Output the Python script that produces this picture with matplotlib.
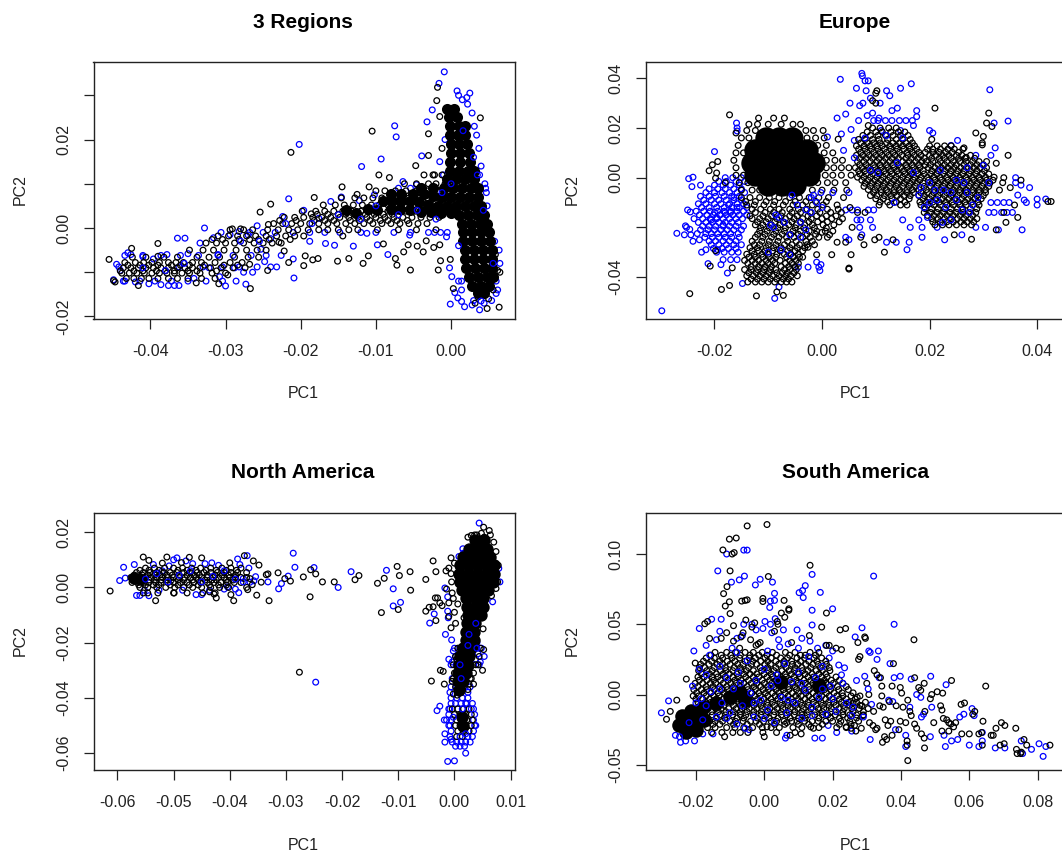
import matplotlib
matplotlib.use("Agg")
from matplotlib import pyplot as plt

plt.rcParams['font.family'] = ['Liberation Sans', 'DejaVu Sans']

# all values, in thousandths of PC1 / PC2
# *_core = spots where the rings overlap into solid black, drawn as one fat dot
# *_rows = crowded areas, listed as (PC2, [PC1, PC1, ...])


def expand(rows):
    return [(x, y) for y, xs in rows for x in xs]


regions_black = [(-45.5,-7.1),(-44.9,-11.9),(-44.7,-12.2),(-42.5,-4.6),(-41.6,-13),(-39,-3.5),(-39,-6.4),(-33.9,-12.4),(-30.9,-12.6),(-29.7,-10.6),(-29.1,-0.2),(-28,-0.2),(-26.7,-13.7),(-26.8,-8.2),(-25.6,-6.6),(-25.4,3.6),(-24.4,-9.6),(-24.3,0.8),(-24,5.4),(-22.9,-3.2),(-22.2,-5.2),(-21.6,-7.8),(-21.3,17.1),(-19.6,-8.5),(-19.4,-6.3),(-18.6,3.2),(-18.4,-7.2),(-18.2,6.9),(-17.7,-6.9),(-15.1,-7.5),(-14.5,9.3),(-14.4,-1.8),(-13.6,-6.9),(-12.5,7.6),(-11.7,-8),(-11,-6.3),(-10.9,9.3),(-10.5,21.9),(-9.6,12),(-9,-3.6),(-8.2,11.4),(-7.4,-6.9),(-7.2,-8.4),(-6.3,-5.4),(-5.7,-3.8),(-5.4,-9.5),(-4.7,14.1),(-4.5,-4.1),(-3.7,-5.4),(-3.3,-2.9),(-3,21.3),(-3,16.4),(-2.3,-4.4),(-2.4,12),(-1.9,28.8),(-1.8,31.8),(-1.7,-9.5),(-1.5,-3.8),(-1.5,25.2),(-1.4,-7.4),(-1.2,18),(-0.1,-7.1),(0.3,-13.7),(3.9,24.9),(4.8,-18.2),(6.4,-17.9),(5.9,-6),(6.2,-9.6),(6.5,-10),(5.6,-14),(5,-16),(3.2,-17),(3.6,-15.6)]

regions_black_rows = [
    (-6.6, [-42.4,-40.6,-38.2,-36.4,-33.8,-32.2,-30.8,-28.8,-27]),
    (-7.8, [-43.4,-42,-40.9,-39.8,-38.8,-37.6,-36.6,-35.6,-34.4,-33.2,-31.4,-29.4,-27.8]),
    (-8.4, [-43,-41.4,-40.2,-39,-37.2,-36,-34.8,-32.8,-30.2,-28.4]),
    (-9, [-43.6,-42.6,-41.6,-40.6,-39.6,-38.6,-37.6,-36.4,-35.4,-34.4,-33.4,-32,-30.6,-29,-27.4]),
    (-9.7, [-44,-42.2,-41,-39.2,-38,-36.8,-35,-33.8,-31.2]),
    (-10.2, [-43.8,-42.8,-41.8,-40.8,-39.8,-38.8,-37.8,-36.8,-35.8,-34.8,-33.4,-31.8,-30]),
    (-11.4, [-43.2,-42.2,-41.2,-40.2,-39,-37.6,-36.4,-35,-33.2,-31.4]),
    (-5, [-34.8,-33,-31.6,-30.2,-28.6,-27.2,-25.8,-24.6]),
    (-3.4, [-32.6,-31.2,-30,-28.8,-27.6,-26.2,-25,-23.8,-22.6]),
    (-2.6, [-31.8,-30.4,-28.2,-26.8,-25.6,-24.2,-21.4]),
    (-1.8, [-31,-29.6,-28.4,-27.2,-26,-24.6,-23.2,-22,-20.8,-19.6]),
    (-0.4, [-29.4,-27.6,-26.4,-24.4,-23,-21.6,-20.4,-19,-17.6,-16.4,-15,-13.6,-12.4,-9.8,-7,-4.6,-2]),
    (1, [-23.6,-22.4,-21.2,-20,-18.8,-17.6,-16.4,-15.2,-14,-12.8,-11.6,-10.4,-9.2,-8,-6.8,-5.6,-4.4,-3.2]),
    (1.7, [-22.8,-20.6,-18.2,-16.8,-15.6,-13.4,-12.2,-10.8,-9.4,-8.4,-7.2,-5.8]),
    (2.4, [-22.2,-20.8,-19.6,-18.4,-17.2,-16,-14.8,-13.6,-12.4,-11.2,-10,-8.8,-7.6,-6.4,-5.2,-4,-2.8,-1.6]),
    (3.1, [-17.8,-16.4,-15,-14,-12.8,-11.4,-10.2,-9,-7.8]),
    (3.8, [-19.8,-18,-16.8,-15.6,-14.4,-13.2,-12,-10.8,-9.6,-8.4,-7.2,-6,-4.8,-3.6,-2.4,-1.2]),
    (5.2, [-17,-15.4,-14.2,-13,-11.8,-10.6,-9.6,-8.4,-7.4,-6.2,-5,-3.8,-2.6]),
    (6.8, [-14.6,-12.8,-11.6,-10.4,-9.2,-8,-6.8,-5.6,-4.4,-3.2,-2,-0.8]),
    (8.4, [-10,-8.8,-7.4,-6,-4.6,-3.2,-1.6,-0.4]),
    (10, [-6.2,-4.6,-3,-2,-0.8]),
    (12, [-3.6,-2.2,-1.2]),
]
regions_black += expand(regions_black_rows)

regions_blue = [(-44.9,-11.7),(-44.5,-8.2),(-44,-9.6),(-43.6,-12),(-43,-5.6),(-42.6,-6),(-42,-12.2),(-41,-6.5),(-40.2,-12.6),(-39.6,-7),(-38.6,-12.8),(-37.8,-6),(-37.6,-13),(-36.8,-13),(-36.4,-2.3),(-36.2,-13),(-35.4,-2.3),(-35,-5.8),(-34.2,-11.4),(-33.4,-3.4),(-32.8,0),(-32.2,-9),(-31.6,-2.2),(-30.8,-11),(-30,-13.1),(-29.4,-1.5),(-28.8,-9),(-28.2,-0.8),(-27.6,-10),(-27.3,-12.7),(-27,-1.6),(-26.4,-10),(-25.8,0.5),(-25.3,-4.8),(-24.8,-7.6),(-24,-2.4),(-23.2,-8.8),(-22.4,2.6),(-21.6,6.6),(-21,-7),(-20.9,-11.3),(-20.2,18.9),(-19.6,4),(-18.8,-3),(-17.6,2.2),(-16.7,-3.5),(-16,6),(-15.5,-3.9),(-14.6,7),(-13,-4.1),(-12.2,6.2),(-11.9,13.9),(-11.2,-1.2),(-10.2,7.5),(-9.8,-3.8),(-9.3,15.6),(-8.4,-6),(-7.5,23.1),(-7.3,20.6),(-6.4,10.5),(-5.5,-1.6),(-4.6,9.8),(-3.9,16.3),(-3.2,24),(-2.5,26.7),(-2.2,-1),(-1.6,32.7),(-1.5,15),(-0.9,35.3),(-0.8,20),(-0.6,-2),(-0.2,-9),(-0.1,-17.2),(0.1,-11),(0.5,-14.6),(0.8,31),(1,30),(0.9,-15.8),(1.4,-16.6),(1.5,29),(2.1,29.5),(2.5,30.5),(2.8,26),(3.1,23),(3.4,21),(3.7,18),(4,14),(4.5,10),(4.7,8),(4.8,5),(4.6,2),(5,0),(5.8,-3),(6.4,-5),(6.5,-8),(6,-14.8),(5.4,-16.4),(3.8,-18.5),(2.8,-17.4),(1.8,-17.8),(4.4,-17),(3,-16.4)]

regions_blue_rows = [
    (-6.2, [-43.4,-41,-38.6,-36,-33.6,-31,-29,-26.6,-24.6,-22.6]),
    (-8.8, [-44.2,-36.2,-33,-30.4,-28.2,-25.8,-24]),
    (-12, [-43.4,-41.4,-39.4,-37.2,-35,-32.6,-30.4,-28.6]),
    (-1, [-30.6,-26.8,-25,-23.4,-21,-18.8,-16.8,-14.8,-12,-10,-7.6,-5.4,-3,-1.4]),
    (12, [-1,0,3.8]),
    (9, [-7,-5.4,4.6]),
    (-12, [1,1.4,6]),
    (-14, [1.4,6.2]),
]
regions_blue += expand(regions_blue_rows)

regions_blue_top = [(-41,-9),(-38,-9.6),(-35.5,-8),(-31,-6),(-28,-3),(-25.5,-3),(-22,1),(-18.5,1),(-15,3),(-12,2),(-10,5),(-7,3),(-4.5,4),(-2,2),(-1.2,8),(0,10),(1.6,22),(3,16),(2.2,28),(3.5,12),(4.3,4),(-0.5,-1),(1,-4),(5.6,-8),(4,-16.5)]

regions_core = [(-0.5,27),(0.4,27),(-0.3,25),(0.8,25),(-0.2,23),(1,23),(1.9,23),(-0.1,21),(0.9,21),(1.9,21),(0,19),(1,19),(2.1,19),(0,17),(1.2,17),(2.4,17),(-0.1,15),(1.2,15),(2.5,15),(-0.2,13),(1,13),(2.2,13),(3,13),(-0.5,11),(0.7,11),(1.9,11),(3,11),(-4,9),(-2.4,9),(-1,9),(0.2,9),(1.4,9),(2.6,9),(3.6,9),(-8,7.6),(-6.6,7.6),(-5,7.6),(-3.6,7.6),(-2.4,7.2),(-1.2,7),(0,7),(1.2,7),(2.4,7),(3.6,7),(-9,6),(-7.8,6),(-6.6,6),(-5.4,6),(-4.2,5.8),(-3,5.2),(-1.8,5),(-0.6,5),(0.6,5),(1.8,5),(3,5),(4,5),(-8,4.4),(-6.8,4.2),(-5.4,4),(-4,3.6),(-2.6,3.6),(-1.4,3.4),(0,3.4),(1,3),(2.2,3),(3.4,3),(4.4,3),(-14,4),(-12.6,3.4),(-11,4.4),(-9.8,4),(1.4,1),(2.6,1),(3.8,1),(4.8,1),(1.6,-1),(2.8,-1),(4,-1),(5,-1),(1.6,-3),(2.8,-3),(4,-3),(5.2,-3),(1.8,-5),(3,-5),(4.2,-5),(5.4,-5),(1.8,-7),(3,-7),(4.2,-7),(5.4,-7),(2,-9),(3.2,-9),(4.4,-9),(5.5,-9),(2.4,-11),(3.6,-11),(4.8,-11),(5.6,-11),(2.8,-13),(4,-13),(5,-13),(3.6,-14.6),(4.4,-14.6)]

europe_black = [(-24.6,-46.7),(-18.7,-45),(-17.2,-43.4),(-16.7,-36.3),(-20.8,-35.6),(-19.8,-29.4),(-19.4,6.5),(-20.4,5.2),(-21,2.8),(-19.6,1.9),(-19.8,-0.2),(-18,-2),(-17.2,25.3),(-16,18),(-12.2,-47.6),(-8.4,-46),(-7.2,-47.4),(5,-36.8),(5,-36.4),(0.2,19),(3,15.5),(5.4,-31),(7.2,-24),(7.8,-27),(9.8,-25),(10.6,-24),(11.6,-30),(13.2,-25),(21,28),(20.4,15.4),(24.6,-23),(26.4,12),(26.8,8.2),(27.8,-24.8),(28.6,18),(29.8,14),(29.8,13.2),(30,16.6),(30.6,22),(31,26),(31.6,20.6),(32.4,5.8),(32.4,-21),(33,-5),(33.6,-2),(33.8,0),(33.8,-14),(34.2,-18),(34.6,9),(35,-4),(35.8,-11),(36.4,-16),(37,-1),(42,-9.6),(42.6,-9.6),(9.4,31),(10,30),(10,34),(10.2,35),(8.6,21),(5.6,-20),(5.2,-12),(4.4,-26),(2.8,-26),(1.8,-31),(1.4,-23),(0,-22),(-1,-31),(-2.6,-28),(-3.6,-32),(6.6,-14),(8,-14)]

europe_black_rows = [
    (24, [-11.8,-9,-7]),
    (21.5, [-13.6,-12,-10,-7.6,-5.4,-4]),
    (19, [-14,-12.4,-3,-1.6]),
    (16, [-15,-13.6,-2.8,-1.2,0.4]),
    (13, [-15.6,-0.8,0.8]),
    (10, [-16,-14.6,0.4,2]),
    (7, [-16.4,0.8,2.4,3.8]),
    (4, [-16,0.8,2.2,3.6,5]),
    (1, [-16,-14.6,0.6,2,3.6,5.4]),
    (-2, [-15.4,-13.8,-0.8,1,2.4,4.4]),
    (-5, [-15,-13,-11.6,-1.8,0,2.2,4.6]),
    (-8, [-15,-13.4,-11.6,-9.8,-8,-6,-4.2,-2.4,-0.6,1.2,4]),
    (-9.6, [-14.2,-12.4,-10.4,-8.8,-6.8,-5,-3,-1.2,0.8]),
    (-11, [-14,-12.6,-10.8,-9,-7.2,-5.4,-3.6,-1.8,0.2,2.8]),
    (-12.7, [-13,-11.4,-9.6,-8,-6,-4.4,-2.8,-0.8,1,3]),
    (-14, [-12.4,-10.6,-9,-7.4,-5.6,-4,-2.2,-0.4,1.6,3.6]),
    (-15.4, [-13.4,-11,-9.4,-7.6,-6,-4.6,-2.6,-1,0.8,2.6]),
    (-16.5, [-13,-11.6,-10,-8.4,-6.8,-5.2,-3.6,-2,0,1.8,3.8]),
    (-17.8, [-12,-10.4,-8.8,-7.2,-5.6,-4,-2.4,-0.8,1,3.2]),
    (-19, [-12.4,-11,-9.4,-7.8,-6.2,-4.8,-3.2,-1.8,0.2,2.2]),
    (-20.2, [-11.4,-9.8,-8.2,-6.8,-5,-3.4,-1.4,0.8]),
    (-21.5, [-11.6,-10.2,-8.6,-7,-5.4,-4,-2.4,-1,0.6,2]),
    (-22.8, [-12,-10.6,-9,-7.4,-5.8,-4.4,-2.8,-1.2]),
    (-24, [-12.4,-11,-9.4,-8,-6.6,-5.2,-3.6,-2.2,-0.6,1]),
    (-25.6, [-13,-11.2,-9.8,-8.2,-6.4,-4.8,-3,-1.8]),
    (-27, [-12.6,-11.6,-10,-8.6,-7,-5.6,-4.2,-2.8,-1.4]),
    (-28.2, [-13.4,-12,-10.4,-9,-7.6,-6,-4.6,-3.2]),
    (-29.5, [-13,-11.8,-10.6,-9.2,-7.8,-6.4,-5,-3.6]),
    (-30.8, [-14,-12.6,-11.2,-10,-8.4,-7,-5.8,-4.4]),
    (-32, [-13.6,-12.4,-11,-9.8,-8.6,-6.6,-5.4,-4.2]),
    (-33.3, [-14.4,-13,-11.8,-10.4,-9.2,-7.8,-6,-4.8]),
    (-34.5, [-13.8,-12.4,-11.2,-10,-8.8,-6.8,-5.6,-4.4]),
    (-35.8, [-13.2,-11.8,-10.6,-9.4,-7.6,-6.2,-5]),
    (-37, [-14.4,-13.2,-12,-10.8,-9.6,-8.6,-7,-6,-4.8]),
    (-38.3, [-13.6,-12.2,-11,-9.8,-8.4,-7.4,-6.4,-5.2]),
    (-39.5, [-14,-12.8,-11.6,-10.4,-9.2,-8,-6.8,-5.8,-4.6]),
    (-40.8, [-13.2,-12,-10.8,-9.6,-8.4,-7.2,-6.2]),
    (-42, [-13.8,-12.4,-11.2,-10,-8.8,-7.6,-6.6,-5.6]),
    (20, [9.4,10.8,12.4,13.8]),
    (18.4, [8.4,10,11.2,12.8,14.2,15.4]),
    (17, [7.6,9,10.4,11.8,13.2,14.6,16]),
    (15.4, [6.8,8,9.4,10.6,12.2,13.8,15,16.4]),
    (14, [7.2,8.4,9.6,10.8,12,13.2,14.4,15.6,16.8]),
    (12.8, [6.4,7.8,9,10.2,11.2,12.6,13.8,15,16.2,17.2,20,21.4,22.8,24]),
    (11.5, [6.8,8,9.2,10.4,11.6,12.8,14,15.2,16.4,17.6,19.6,20.6,22,23.4,24.6,26.2]),
    (10.2, [7.2,8.4,9.6,10.8,12,13.2,14.4,15.8,16.8,18,19.2,20.6,21.8,23,24.2,25.4]),
    (9, [6.4,7.6,8.8,10,11.2,12.4,13.6,14.8,16,17.2,18.4,20,21.2,22.4,23.6,25,26,27.6]),
    (7.8, [7,8.2,9.4,10.6,11.8,13,14.2,15.6,16.6,17.8,19,20.4,21.8,22.8,24,25.4,26.6,28.4]),
    (6.5, [6.6,7.8,9,10.2,11.4,12.6,13.8,15,16.2,17.4,18.6,19.4,20.6,22,23.2,24.4,25.6,26.8,28,29.2,30.6]),
    (5.2, [7,8.2,9.6,10.8,12,13.2,14.2,15.6,16.8,18,19.2,20.2,21.6,22.8,24,25,26.4,27.6,28.8,30]),
    (4, [6.2,7.4,8.6,9.8,11,12.2,13.4,14.6,15.8,17,18.2,19.8,21,22.2,23.4,24.6,25.8,27,28.2,29.4,30.6]),
    (2.8, [6.8,8,9.2,10.4,11.6,12.8,14,15.2,16.4,17.6,18.8,20.4,21.6,22.8,24,25.2,26.4,27.6,28.8,30.2]),
    (1.5, [7,8.2,9.4,10.6,11.8,13,14.2,15.4,16.6,17.8,19,20.2,21.4,22.6,23.8,25,26.2,27.4,28.6,29.8,31]),
    (0.2, [6.6,7.8,9,10.2,11.4,12.6,13.8,15,16,17.2,18.4,19.6,20.8,22,23.2,24.4,25.6,26.8,28,29.2,30.4,32]),
    (-1, [7.4,8.6,9.8,11,12.2,13.4,14.6,15.8,17,18.2,19.8,21,22.2,23.4,24.6,25.8,27,28.2,29.4,30.6,31.8]),
    (-2.2, [8,9.2,10.4,11.6,12.8,14,15.2,16.4,17.6,18.8,20.4,21.6,22.8,24,25.2,26.4,27.6,28.8,30,31.2]),
    (-3.5, [7.8,9,10.2,11.4,12.6,13.8,15,16.2,17.4,19,20.2,21.4,22.6,23.8,25,26.2,27.4,28.6,29.8,31]),
    (-4.8, [8.6,9.8,11,12,13.4,14.4,15.8,16.8,18,19.4,20.8,22,23.2,24.4,25.6,26.8,28,29.2,30.4]),
    (-6, [9.6,11,12.2,13.4,14.6,15.8,17,18.4,19.6,20.8,22,23.2,24.4,25.6,26.8,28,29.2,30.4]),
    (-7.2, [9,10.2,11.6,12.8,14,15.2,16.4,18,19,20.4,21.6,22.8,24,25.2,26.4,27.6,28.8,30]),
    (-8.5, [10,11.4,13,14.6,16.2,18.8,20,21.2,22.4,23.6,24.8,26,27.2,28.4,29.6]),
    (-9.8, [10.8,12.2,13.8,15.4,18.2,19.4,20.6,21.8,23,24.2,25.4,26.6,27.8,29]),
    (-11, [10.6,12.6,14.6,15.8,18.4,19.6,20.8,22,23.2,24.4,25.6,26.8,28,29.2]),
    (-12.5, [19.2,20.4,21.6,22.8,24,25.2,26.2,27.6,28.8]),
    (-14, [19,20.2,21.4,22.6,23.8,25,26.2,27.4,28.6]),
    (-15.2, [19.6,20.8,22,23.2,24.4,25.6,26.8,28]),
    (-16.5, [20.4,21.6,22.8,24,25.2,26.4,27.6,28.8]),
    (-17.8, [20.6,22,23.2,24.4,25.8,27,28.2]),
    (-19, [21,22.4,23.6,25,26.4,27.8]),
]
europe_black += expand(europe_black_rows)

europe_blue = [(-29.8,-53.6),(-27,-22.4),(-25.6,-23),(-25,-13),(-25.2,-20),(-25.4,-19.4),(-24.5,-13.8),(-24.6,-20.8),(-24.4,-23),(-24,-25.6),(-24,0.2),(-24.8,-0.4),(-24.2,-3.6),(-22.8,-25),(-22.4,-30),(-22.6,-3),(-21.6,-29),(-21.2,-34.6),(-20,10.5),(-19.4,-29),(-18.8,-35),(-17.6,-38.4),(-15.9,22),(-15.8,20),(-15.8,18.8),(-14.8,-42.6),(-8.8,-48.6),(-8,-44),(-4.4,-36),(-2.6,-36),(-1,-34),(-0.6,-36),(-0.4,-37.4),(-0.2,-35),(1,16.4),(2.8,24),(3.4,39.6),(3.6,17.6),(4,11),(4.4,25.6),(4.4,-24),(5,-25),(5.2,30),(5.4,19.4),(6,15),(6.4,36),(6.8,23),(7,29),(7.4,-23),(7.6,30),(7.4,42),(7.5,41),(8,39),(8.6,39),(8.2,35),(8.4,25),(9,32),(9.4,26),(10.6,24),(10.8,30),(11,19),(12,35),(12.6,33),(12,-26),(13,27),(14,28),(13.8,-26),(14.6,36),(14.6,19),(15.8,-29),(16.2,-26),(16.6,37.8),(17,21),(17.6,24.6),(17.6,27),(18.6,-24),(20,19),(20.6,18),(22.8,-25),(24,13),(25.2,15),(26,-23),(28.6,9),(31.4,9),(31.2,35.4),(32,22),(32.2,12),(32.8,-21),(34.6,22.8),(36,0),(36,-2),(36.4,-7),(37,-3),(37.2,-21),(37.6,-9),(38,-10),(38.6,-4),(40,-8.6),(40,-11),(41.6,-8.6)]

europe_blue_rows = [
    (0, [-18,-16.6,-15]),
    (-1.5, [-19.2,-17.8,-16,-14.4]),
    (-3, [-20,-18.4,-17,-15.4]),
    (-4.5, [-21,-19.4,-18,-16.4,-15]),
    (-6, [-21.6,-20,-18.6,-17.2,-15.8,-14.4]),
    (-7.5, [-22.6,-21,-19.8,-18.2,-16.8,-15.4]),
    (-9, [-22,-20.6,-19.2,-17.8,-16.4,-15]),
    (-10.5, [-23,-21.6,-20,-18.8,-17.2,-15.8,-14.6]),
    (-12, [-22.4,-21,-19.6,-18.2,-16.8,-15.4,-14]),
    (-13.5, [-23.4,-22,-20.8,-19.4,-18.2,-17,-15.8,-14.6]),
    (-15, [-22.8,-21.4,-20.2,-19,-17.8,-16.6,-15.4,-14]),
    (-16.5, [-23.8,-22.2,-20.8,-19.6,-18.4,-17.2,-16,-14.8]),
    (-18, [-23,-21.6,-20.4,-19.2,-18,-16.8,-15.6]),
    (-19.5, [-22.2,-21,-19.8,-18.4,-17.2,-16,-14.6]),
    (-21, [-22.6,-21.2,-20,-18.8,-17.6,-16.4,-15]),
    (-22.5, [-23.2,-21.6,-20.6,-19.4,-18.2,-17,-15.6]),
    (-24, [-21.8,-20.4,-19.2,-18,-16.8,-15.4]),
    (-25.5, [-21,-19.8,-18.4,-17.2,-16]),
    (-27, [-20.6,-19.2,-17.8,-16.4,-15]),
    (-28.5, [-20.2,-18.6,-17.4,-16]),
    (-30, [-19.6,-18.2,-16.8,-15.6]),
    (-33, [-18.4,-17,-15.8]),
    (-13, [4.4,5.6,6.6,8.6,9.6]),
    (-17, [6.5,7.2,9,15,18]),
    (-20, [7,9.4,16.4,18.6,21.4,28.6,30.4]),
    (-14, [31,32,33.4,34.4,35.4]),
    (-10, [31.4,32.6,33.8,34.8]),
    (23, [9.6,10.4,11.8,13,14.4,15.6,16.8]),
]
europe_blue += expand(europe_blue_rows)

europe_blue_top = [(-20.6,-17),(-20,-14),(-19.6,-16),(-19,-15),(-18.4,-19),(-18,-14),(-17.4,-11),(-17,-14),(-16.4,-8),(-15.8,-12),(-9.6,-19),(-8.6,-15),(-7.6,-29),(-1.6,-7),(-1,-10),(-0.2,-6),(-9,-20),(10.4,2),(13.4,-10),(18,-7),(19,-12),(19.6,-16),(21,-5),(22.4,-18),(24,-6),(26.4,-2),(26,-13),(27.4,-14),(18.4,-4),(14,6),(-4.6,-11),(-3,-13),(-2,-8),(-5.6,-7),(-7,-18),(-4,-24),(-10,-30),(-6,-31),(0,-12),(2,-6),(5,-6),(6,8),(8,16),(9,3),(12,17),(15,16),(17,2),(20,-10),(22,3),(24,-17),(27,4),(29,-8),(31,-2),(30,5),(25,-1),(21.4,-9),(23,-12),(25,-9),(27,-6),(28,-11),(20,-2),(22.6,-5),(-8,-16),(-6,-23),(-4,-18),(-2,-14),(-3,-21)]

# big dots only for the solid Europe blob
europe_core = [(-10.5,16),(-8,16),(-5.5,16),(-12.5,11),(-10,11),(-7.5,11),(-5,11),(-2.8,11),(-13,6),(-10.5,6),(-8,6),(-5.5,6),(-3,6),(-1.5,6),(-12.5,1),(-10,1),(-7.5,1),(-5,1),(-2.5,1),(-10,-3),(-7.5,-3),(-5,-3)]

north_black = [(-61.3,-1.3),(-55.4,11),(-54.4,9.8),(-53.2,-4.8),(-52,8.8),(-51.2,11),(-49.9,-2),(-48.6,9),(-47.2,10.9),(-45,10.7),(-43.6,-1.6),(-42.8,-2.4),(-42.4,-3.8),(-40,8.9),(-39.8,-2.6),(-39.3,-4.8),(-37.4,11.5),(-37,0),(-36.8,-0.8),(-36.4,3.2),(-36,1),(-35.8,9.6),(-35.2,-2.8),(-34.8,8.1),(-34.4,1.9),(-33.5,4.6),(-33.2,4.9),(-33,-4.8),(-31.4,5.3),(-30.2,3.2),(-29.2,2.3),(-27.6,-30.7),(-26.9,3.8),(-25.7,-3.4),(-25.6,6.4),(-24.7,4.9),(-23.5,2),(-21.4,2),(-17.7,2.8),(-17,4.3),(-13.7,1.5),(-13,-9.1),(-12.5,3.3),(-10.2,7.6),(-10,-8),(-9.8,4.3),(-7.9,5.7),(-7.8,-1),(-5.1,2.9),(-5.1,-8.6),(-4.5,-7.2),(-4.1,-33.9),(-3.8,9.6),(-3.8,-7),(-3.4,-3.8),(-3.3,5.7),(-3.3,-12),(-3,-3.8),(-2.6,-5.6),(-2.5,-30),(-2.2,-6.6),(-2,-30.4),(-1.8,-35),(-1.5,6),(-1.4,-0.6),(-1,7),(-1,-5.6),(-1,-10.5),(-0.6,10.7),(-0.6,-14.6),(-0.4,-2),(-0.2,-38.6),(0,-9),(0.2,-13),(1.4,-37),(1.7,-11),(2.4,-37),(2.6,-35),(3.4,-35),(5,-30),(5.2,-22.5),(5.1,-15),(5.3,18.2),(2.4,18.2),(3,18.8),(3.6,19),(4,19),(5.2,21.8),(6.2,20.6),(4.8,19.6),(6.4,19),(7,16.4),(7.4,13),(7.8,8),(7.7,2),(7.4,-0.4),(6.6,-3),(-0.5,2),(-0.6,5),(0,8.8),(-0.2,-4),(0.6,-6),(0.4,-26),(0.6,-31),(-0.4,-34),(0.2,-36),(0.5,-39)]

north_black_rows = [
    (7, [-55,-53.4,-51.6,-50,-48.4,-46.8,-45.2,-43.4,-41.4,-39.8,-38]),
    (6.2, [-56,-54.4,-52.6,-49.2,-47.6,-46,-44.2,-42.4,-40.6,-38.8]),
    (5.4, [-56.6,-55.4,-54.2,-53,-51.8,-50.6,-49.4,-48.2,-47,-45.8,-44.6,-43.4,-42.2,-41,-39.8,-38.6,-37]),
    (4.5, [-57,-55.6,-54.6,-53.4,-52.4,-51.2,-50.2,-49,-47.6,-46.4,-45.4,-44,-42.6,-41.4,-40.2,-39]),
    (3.6, [-57.6,-56.8,-56,-55,-54,-53,-52,-51,-50,-49,-48,-47,-46,-45,-44,-43,-42,-41,-40,-39,-38,-37]),
    (2.7, [-57,-55.4,-54.4,-53.4,-52.2,-51.4,-50.4,-49.2,-48.2,-46.6,-45.6,-44.4,-43.2,-42.4,-40.6,-39.4]),
    (1.8, [-57.4,-56.4,-55.4,-54.4,-53.2,-52.2,-51,-50,-48.8,-47.6,-46.4,-45.2,-44,-42.8,-41.6,-40.4,-39.2,-38]),
    (0.9, [-56.2,-55,-53.6,-52.6,-50.6,-49.2,-47.2,-45.6,-43.6,-42,-40.6]),
    (0, [-56,-54.6,-53,-51.4,-49.8,-48.2,-46.6,-45,-43.4,-41.8,-40.2]),
    (-2, [-55.4,-54.6,-52.8,-50,-47.6,-44.8,-42.6]),
    (-44, [-0.4,0.6,1.6,2.6]),
    (-46, [0,1,2,3]),
    (-48, [0.4,1.2,2.2,3.2]),
    (-50, [0.2,1,2,3]),
    (-52, [0.6,1.6,2.6]),
    (-54, [0.4,1.4]),
    (-22, [0.6,1,4.6]),
    (-25, [0.2,4.4]),
    (-28, [-0.2,3.8,4.2]),
    (-31, [0,3.4]),
    (-33, [-0.2,2.8,3]),
]
north_black += expand(north_black_rows)

north_blue = [(-59.6,2.5),(-58.9,7.3),(-58.6,3.4),(-57,8.3),(-56.6,-2.9),(-56,-2.9),(-55.2,-1),(-54.4,-3),(-53.6,8.3),(-52.6,-1),(-52,6),(-50.8,7.8),(-50,10),(-49.4,10.7),(-48.4,-1),(-47.8,9.6),(-46.6,8.6),(-46,-2.6),(-45,-2.6),(-44.4,8.6),(-43.6,-1),(-43.2,8.9),(-42,8),(-41,-0.6),(-40.4,0.2),(-39,-0.6),(-38.6,10.3),(-38.4,-1.9),(-38.2,8.3),(-37.6,3.2),(-36.9,11.5),(-36.6,7),(-36.4,1.9),(-35.7,2.4),(-35.4,3.9),(-33.2,2),(-31.3,-0.5),(-30.8,1.4),(-29.6,4.1),(-28.7,12.4),(-28.4,7.3),(-25,7.2),(-24.7,-34.3),(-20.7,0),(-18.4,5.7),(-12.1,6.2),(-10.9,-0.5),(-10.9,-6.7),(-9.6,-5.4),(-4.4,-12.9),(-3.6,-9.6),(-2.6,-43),(-3.1,-44.6),(-1.7,-0.2),(-1.6,-17),(-1.8,-48),(-1.7,-53),(-1.7,-56),(-1.2,-3.4),(-1.1,-11),(-1.2,-8.6),(-1.2,-63),(0,-62.8),(-1,-26),(-1,-44),(-0.8,-50),(-0.6,-55),(-0.8,-38),(-0.6,-28),(-0.2,-23),(0.2,-25),(2,-60),(3.8,-26),(4.2,-24),(4.4,-28),(4.4,23.3),(4,-20),(5.3,-25),(1.5,14),(0.8,11.2),(1.6,12.4),(6.8,-5.2),(7,9),(8.1,2),(7.9,6.9),(-0.5,-19)]

north_blue_rows = [
    (-40, [-0.6,0.4,1.4,2.4]),
    (-42, [-0.6,0.2,1.2,2.2,3.2]),
    (-44, [-0.8,3.4]),
    (-46, [-1,3.6]),
    (-48, [-1.4,-0.6,3.4]),
    (-50, [-1,3.6,3.8]),
    (-52, [-0.6,3.4]),
    (-54, [-0.8,2.4,3.2]),
    (-56, [-0.4,0.4,1.2,2,2.8]),
    (-57.5, [0.2,1,1.8]),
    (-22, [0,2.6,4.8]),
    (-27, [-0.4,4.6]),
    (-33, [-0.4,1]),
    (-36, [-0.6,1.8,2.8]),
    (-38, [0.8,2.4]),
]
north_blue += expand(north_blue_rows)

north_blue_top = [(-55,3),(-53,5),(-51,2),(-49,4.4),(-47,6),(-45,2),(-43,4),(-41,6),(-39,3),(-37.6,2),(2.6,-17),(3.8,-13),(2.4,-21),(4,-22),(1.2,-33),(1,-28),(2,-42),(1.4,-44),(3,-44),(-0.2,-47),(1,-54),(2,-53)]

north_core = [(3.6,17),(5.2,17),(2.6,14),(4.2,14),(5.8,14),(1.6,11),(3.2,11),(4.8,11),(6.4,11),(1,8),(2.6,8),(4.2,8),(5.8,8),(7,8),(0.8,5),(2.4,5),(4,5),(5.6,5),(7,5),(1,2),(2.6,2),(4.2,2),(5.8,2),(6.8,2),(1.4,-1),(3,-1),(4.6,-1),(6,-1),(2,-4),(3.6,-4),(5,-4),(2.2,-7),(3.8,-7),(5,-7),(2.4,-10),(3.8,-10),(4.8,-10),(2.2,-13),(3.6,-13),(2,-16),(3.4,-16),(2,-19),(3.4,-19),(1.6,-22),(3,-22),(1,-25),(2.6,-25),(0.8,-28),(2.4,-28),(0.6,-31),(2,-31),(0.6,-34),(1.6,-34),(0.8,-37),(1.4,-47),(1.6,-50),(-57,3.4),(-56,3)]

south_black = [(-28.6,-17.6),(-27.5,-12),(-25.6,-4),(-22.8,11),(-20.2,22.4),(-17.4,50.4),(-16.6,52),(-16,39.9),(-12.6,40),(-12.1,102.9),(-11.9,71.8),(-11.6,-30),(-11.4,63),(-11,44),(-10.9,76.8),(-10.2,110.6),(-10.2,66),(-10,57.6),(-10,88),(-9.4,100),(-9,38),(-8.8,101),(-8.2,111.4),(-9,49),(-7.2,33),(-6.8,41),(-6.6,66.5),(-6.2,44),(-5.6,67),(-5.4,53),(-5,120),(-5,67.4),(-4,39),(-3.6,48),(-2.8,51),(-2.4,35),(-1.8,36),(-1.2,37),(-0.4,68.4),(-0.4,66.2),(0,-30),(0.8,121),(0.8,-23),(1.2,84),(3,45),(3.8,52),(4,50),(5,58),(5.8,67),(6,55),(6.6,-20),(7.2,61),(7.2,60),(7.6,-29),(8,37),(10.8,-28),(13.2,42),(13.4,92),(13.6,-23),(14.4,-24),(16.8,48),(18.2,58),(18.2,35),(19,35),(21,33),(22.2,46),(22.6,32),(23.8,47),(24,-23),(25.4,-24),(26,-6),(26.4,-22),(26.8,-26),(27.2,-2),(27.4,37),(27.6,25),(28,27),(28.4,-24),(28.6,-8),(28.9,-15),(29.4,41),(29.6,40),(30,8),(30.6,0),(30.8,-20),(31.8,-22),(32,-12),(32.2,17),(32.6,-25),(33,-24),(33,14),(33.8,-8),(34,12),(34.4,-1),(34.4,6),(34.6,-34),(34.8,-9),(35.2,-30),(35.4,-18),(35.8,-32),(36.2,-22),(36.6,-5),(37,-19),(37.4,-29),(37.8,22),(37.4,6),(38.6,-8),(39.4,-25),(39.8,-19),(39.8,5),(40.2,1),(40.6,-9),(41.4,-20),(41.8,-33),(41.8,-36),(42,-47),(42,-4),(42.6,-12),(43,-15),(43.8,39),(44,12),(44,-21),(44.6,-24),(45.2,5),(45.8,3),(46,-28),(46.8,-31),(46.9,-38),(46.8,8),(47,-12),(48.6,-3),(49,0),(49.6,-20),(50.6,2),(51.6,-8),(52,-11),(52,-26),(52.2,1),(52.4,-17),(53.4,-18),(54,-26),(54,-20),(54.6,-21),(54.8,10),(55.4,-23),(56,-20),(57.6,-7),(57.8,-28),(58.6,-6),(60,-28),(61,-14),(61.6,-12),(62.8,-28),(63.6,-27),(63.8,-36),(64,-19),(64.8,6),(66.4,-29),(67,-29),(67.8,-24),(69,-36),(69.4,-20),(70.4,-22),(70.2,-35),(73.6,-24),(73.8,-39),(75,-42),(76,-32),(76.8,-36),(74,-42),(75.2,-41),(83.6,-36)]

south_black_rows = [
    (30, [-14.4,-11,-8.4,-5.6,-3.2,-0.6,2.4,6.2,9,13.4,16]),
    (28, [-15.6,-12.6,-9.8,-7,-4.2,-1.6,0.8,3.6,7.4,10.6,12,15]),
    (26, [-17,-14.6,-12.2,-9.4,-7.2,-4.4,-2.6,0.2,2,4.8,6.8,9.6,11.8,14.6,16.8]),
    (23.7, [-17.8,-15.4,-13,-10.8,-8.6,-5.6,-3.4,-1,1,3.4,5.8,8,10.6,13,15.4,18]),
    (21.5, [-18.6,-16.2,-13.8,-12.2,-10,-7.8,-6.2,-3.8,-2.2,0.2,1.8,4.2,5.8,8.2,9.8,12.2,14.2,15.8,18.2]),
    (19.2, [-19,-17.4,-14.6,-11.4,-8.8,-7,-4.6,-1.2,1,3.4,6.4,9,11,13.6,16.4,19]),
    (17, [-19.2,-16.8,-15.2,-12.8,-11.2,-9.2,-6.8,-5.2,-3.2,-0.8,1.2,2.8,5.2,7.2,8.8,11.2,12.8,15.2,17,19.2]),
    (14.7, [-18.4,-16,-14,-12,-10.2,-8,-6,-4.2,-2.2,0,2,4,6.2,8,10,12,14,16,18]),
    (12.5, [-19.4,-17.6,-15.2,-13.6,-11.4,-9.2,-7.6,-5.4,-3.2,-1.6,0.8,2.4,4.8,6.4,8.8,10.4,12.8,14.4,16.8,18.4,21]),
    (10.2, [-19,-16.8,-14.8,-12.8,-10.6,-8.6,-6.8,-4.6,-2.6,-0.6,1.6,3.4,5.6,7.4,9.4,11.6,13.6,15.4,17.6,19.6,22]),
    (8, [-20.2,-18,-15.8,-14.2,-12,-9.8,-8.2,-6,-3.8,-2.2,0,2.2,3.8,6,8.2,9.8,12,14.2,15.8,18,20.2,23]),
    (5.7, [-19.4,-17,-15,-13,-11,-9,-7,-5,-3,-1,1,3,4.8,7,9,11,13,15,17,19.2,21.4,24]),
    (3.5, [-20.6,-18.4,-16.8,-14.6,-12.4,-10.8,-8.6,-6.4,-4.8,-2.6,-0.4,1.2,3.4,5.6,7.2,9.4,11.6,13.2,15.4,17.6,19.4,21.8,24.6]),
    (1.2, [-19.8,-17.6,-15.6,-13.6,-11.6,-9.6,-7.6,-5.6,-3.6,-1.6,0.4,2.4,4.2,6.2,8.2,10,12.2,14.2,16.2,18.2,20.4,22.8,26]),
    (-1, [-20.8,-19.2,-17,-14.8,-13.2,-11,-8.8,-7.2,-5,-2.8,-1.2,1,3.2,4.8,7,9.2,10.8,13,15.2,16.8,19,21.2,23,25.4,28]),
    (-3.2, [-20,-18,-16,-14,-12,-10,-8,-6,-4,-2,0,2,4,6,8,10,12,14,16,18,20,22,24,26.6]),
    (-5.5, [-19.4,-17.2,-15.6,-13.4,-11.2,-9.6,-7.4,-5.2,-3.6,-1.4,0.8,2.4,4.6,6.8,8.4,10.6,12.8,14.4,16.6,18.8,20.4,22.6,24.8,27,29.6]),
    (-7.7, [-17.8,-15.8,-13.8,-11.8,-9,-7,-5,-3,-1,1,3,5,7,9.2,11,13,15.2,17,19,21,23.2,25,28]),
    (-10, [-18.6,-16.4,-14.2,-12.6,-10.4,-8.2,-6.6,-4.4,-2.2,-0.6,1.6,3.8,5.4,7.6,9.8,11.4,13.6,15.8,17.4,19.6,21.8,23.4,25.6,27.8,30.4]),
    (-12.2, [-17.8,-15.4,-13.4,-11.2,-9,-7,-5,-3,-0.8,1,3,5,7.2,9,11,13,15,17,19.4,21,23,26,29]),
    (-14.5, [-19,-17.4,-15.2,-13,-11.4,-9.2,-7,-5.4,-3.2,-1,0.6,2.8,5,6.6,8.8,11,12.6,14.8,17,18.6,20.8,23,25,27,29]),
    (-16.7, [-16.6,-14,-11.6,-8,-6,-2,1.4,4,7.6,10,12,16,19.4,22,24.4,27]),
    (-19, [-18.2,-16,-14.4,-12.2,-10,-8.4,-6.2,-4,-2.4,-0.2,2,3.6,5.8,8,9.6,11.8,14,15.8,18,20,22.4,25,27.6]),
    (-21.2, [-15,-13,-9,-5,-1.4,3,6,10,13,17,22,25.4]),
    (-23.5, [-18.8,-16.6,-14.4,-11,-8.6,-6,-3.4,-0.6,2,4.4,8.4,11,16,21.2,24]),
    (-27, [-15.4,-12.4,-9.2,-7,-4.8,-0.4,3.6,9]),
]
south_black += expand(south_black_rows)

south_blue = [(-30.1,-13),(-28,-4.5),(-26,-29),(-24.5,-34),(-23,-33),(-20.6,31),(-20.4,-33),(-19,47),(-18,-28),(-17,35),(-15.4,53.6),(-15,-28),(-14,39),(-13.6,88),(-13,45),(-12.6,53.6),(-11,100),(-9.6,80),(-9.4,33),(-8,40),(-7.3,81.6),(-6.4,42),(-6,50),(-6,102.8),(-5.8,84.3),(-5,102.8),(-4.4,-25),(-3.6,50),(-2.6,78),(-2.4,46),(-1.2,82),(-0.4,47),(0.2,52),(1.6,62),(1.8,66.5),(1.8,50),(2.2,44),(2.4,80),(3,67),(3,72),(3.2,54),(4.2,39),(4.5,34),(5.6,46),(6.2,-31),(6.6,-29),(7,36),(9.6,46),(10.2,72.5),(11,40),(11.2,74),(11.4,69),(12,77.5),(13.4,38),(14,85.5),(14,60),(14,49.5),(14.8,-31),(15.6,33),(16.4,72.7),(17,-31),(18,35),(18.7,-22),(19,26),(20,61),(20,31),(21.2,-27),(21.8,21),(23.5,19),(25.6,-26),(26.6,41),(28.6,47.5),(29.4,13),(30.6,31),(31,30),(31.4,-7),(31,-32),(32,84.3),(33,25),(33.4,31),(33.6,12),(36.4,-4),(36.8,22),(37.6,-5),(38.4,-25),(38,50),(38,12),(39.8,13),(41.4,-29),(41.4,-37),(42.6,-9),(43,11),(44.6,0),(45.8,-2),(46,-16),(46.6,-14),(48.6,-30),(48.7,13),(49,-9),(52.6,-29),(53,-37),(53.2,7),(54.8,-33),(56.6,-32),(57.2,-16),(58.4,-14),(60,-36),(60.8,-10),(61.4,-15),(62.8,-37),(63.8,-27),(63.8,-33),(67.6,-38),(70.4,-38),(75.2,-33),(75.6,-42),(78.2,-39),(80.4,-35),(81.6,-44),(82.4,-37)]

south_blue_top = [(-21,6),(-18.4,-3),(-17,14),(-15.6,2),(-14,-16),(-13,20),(-12.4,-6),(-11,12),(-10,-13),(-9,4),(-8,-21),(-7.6,16),(-6.4,-8),(-5,24),(-4,1),(-3,-16),(-2.4,10),(-1,-4),(0,18),(1,-11),(2,6),(3,-20),(3.6,14),(5,-2),(6,22),(6.6,-13),(8,9),(9,-6),(10,16),(11,-17),(12,3),(13,27),(14,-9),(15,12),(16,-2),(17,20),(18,-14),(19.4,6),(21,-12),(22.6,14),(24,-6),(25.6,-15),(27,10),(29,-16),(30.4,4),(-16,28),(-8,30),(1,31),(10,33),(-19,18),(-20,-6),(-22,-20),(-24.8,-30),(-18,-18),(-5.6,-24),(-17,-8),(-13,4),(-11,-17),(-7,8),(-3,-6),(0,-17),(4,10),(7,-4),(11,8),(14,-15),(17,4),(20,-3),(23,8),(26,-9)]

south_core = [(-25,-22),(-24,-15),(-23,-27),(-22,-20),(-21.5,-12),(-20,-25),(-19.5,-17),(-18,-9),(-17.5,-18),(-14,-6),(-10,-2),(-7,1),(-5.6,-4),(5,9),(16,7)]

panels = [
    ("3 Regions", regions_black, regions_blue, regions_blue_top, regions_core, (-47.57, 8.47), (-20.57, 37.53), 93.5, 62, 64,
     [-40, -30, -20, -10, 0], ["-0.04", "-0.03", "-0.02", "-0.01", "0.00"],
     [-20, -10, 0, 10, 20, 30], ["-0.02", "", "0.00", "", "0.02", ""]),
    ("Europe", europe_black, europe_blue, europe_blue_top, europe_core, (-32.83, 45.5), (-56.9, 46.58), 645.5, 62, 260,
     [-20, 0, 20, 40], ["-0.02", "0.00", "0.02", "0.04"],
     [-40, -20, 0, 20, 40], ["-0.04", "", "0.00", "0.02", "0.04"]),
    ("North America", north_black, north_blue, north_blue_top, north_core, (-64.26, 10.73), (-66.1, 26.95), 93.5, 513, 80,
     [-60, -50, -40, -30, -20, -10, 0, 10], ["-0.06", "-0.05", "-0.04", "-0.03", "-0.02", "-0.01", "0.00", "0.01"],
     [-60, -40, -20, 0, 20], ["-0.06", "-0.04", "-0.02", "0.00", "0.02"]),
    ("South America", south_black, south_blue, south_blue_top, south_core, (-34.75, 88.5), (-53.7, 129.2), 645.5, 513, 110,
     [-20, 0, 20, 40, 60, 80], ["-0.02", "0.00", "0.02", "0.04", "0.06", "0.08"],
     [-50, 0, 50, 100], ["-0.05", "0.00", "0.05", "0.10"]),
]

W, H = 1062, 857
AX_W, AX_H = 421.2, 257


def rings(ax, pts, color):
    x, y = zip(*pts)
    ax.scatter(x, y, s=17, facecolors='none', edgecolors=color, linewidths=0.9, clip_on=False, zorder=3)


fig = plt.figure(figsize=(W / 100, H / 100), dpi=100)

for name, black, blue, blue_top, core, xlim, ylim, left, top, core_s, xt, xl, yt, yl in panels:
    ax = fig.add_axes([left / W, 1 - (top + AX_H) / H, AX_W / W, AX_H / H])
    ax.set_xlim(xlim)
    ax.set_ylim(ylim)
    rings(ax, blue, '#0000ff')
    cx, cy = zip(*core)
    ax.scatter(cx, cy, s=core_s, color='black', linewidths=0, zorder=3)
    rings(ax, black, 'black')
    rings(ax, blue_top, '#0000ff')
    ax.set_xticks(xt, xl)
    ax.set_yticks(yt, yl)
    ax.tick_params(axis='both', length=7.2, width=0.9, labelsize=11.5, colors='#222222')
    ax.tick_params(axis='x', pad=10.5)
    ax.tick_params(axis='y', pad=9)
    for t in ax.get_yticklabels():
        t.set_rotation(90)
        t.set_va('center')
    for s in ax.spines.values():
        s.set_linewidth(1.0)
        s.set_color('#222222')
    cx_px = left + AX_W / 2
    fig.text((cx_px - 1) / W, 1 - (top - 40) / H, name, ha='center', va='center', fontsize=15, fontweight='bold')
    fig.text((cx_px - 1) / W, 1 - (top + AX_H + 75) / H, "PC1", ha='center', va='center', fontsize=11.5, color='#222222')
    fig.text((left - 73) / W, 1 - (top + AX_H / 2 - 1) / H, "PC2", ha='center', va='center', rotation=90, fontsize=11.5, color='#222222')

fig.savefig("out.png", dpi=100)
